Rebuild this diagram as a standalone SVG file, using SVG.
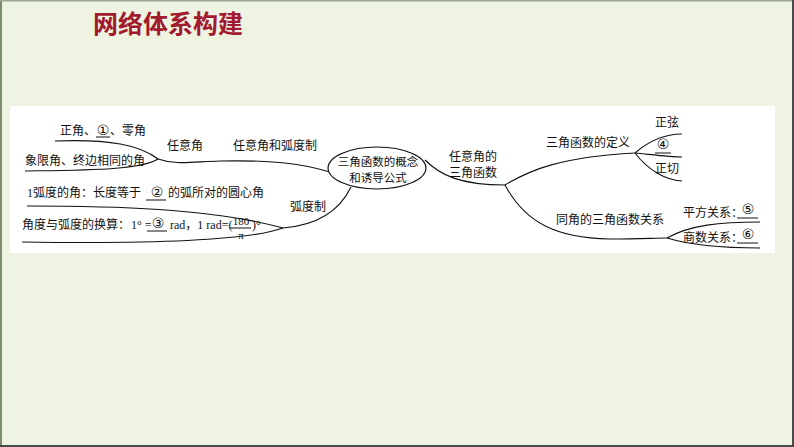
<svg xmlns="http://www.w3.org/2000/svg" width="794" height="447" viewBox="0 0 794 447">
<style>
.t{font-family:"Noto Sans CJK SC","Noto Sans",sans-serif;font-size:12px;fill:#111}
.c{font-family:"DejaVu Sans","Noto Sans CJK SC",sans-serif;font-size:14px;fill:#111;text-anchor:middle}
.s{font-family:"Liberation Serif","Noto Sans CJK SC",serif;font-size:12px;fill:#111}
.f{font-family:"Liberation Serif",serif;font-size:11px;fill:#111;text-anchor:middle}
.m{text-anchor:middle}
.ln{fill:none;stroke:#111;stroke-width:1.1}
.u{stroke:#111;stroke-width:1}
</style>
<rect x="0" y="0" width="794" height="447" fill="#eef3e2"/>
<line x1="1" y1="0" x2="1" y2="447" stroke="#7d8a70" stroke-width="2"/>
<line x1="0" y1="0.75" x2="794" y2="0.75" stroke="#9ca68f" stroke-width="1.5"/>
<line x1="793" y1="0" x2="793" y2="447" stroke="#4a4a4a" stroke-width="2"/>
<line x1="0" y1="446" x2="794" y2="446" stroke="#4a4a4a" stroke-width="2"/>
<text x="93" y="33" style="font-family:'Noto Sans CJK SC',sans-serif;font-size:25px;font-weight:bold;fill:#a11a2e">网络体系构建</text>
<rect x="10" y="106" width="765" height="147" fill="#ffffff"/>

<g id="connectors">
<path class="ln" d="M55,141 C110,139 140,145 158,159"/>
<path class="ln" d="M25,171 C90,170 140,170 158,159"/>
<path class="ln" d="M158,159 C175,165 190,162 220,161 C270,160 300,163 330,172"/>
<path class="ln" d="M351,187 C340,210 320,225 283,228"/>
<path class="ln" d="M27,206 C110,206 210,208 283,228"/>
<path class="ln" d="M22,242 C150,244 250,240 283,228"/>
<path class="ln" d="M425,160 C440,175 460,185 505,185"/>
<path class="ln" d="M505,185 C530,170 560,157 635,153"/>
<path class="ln" d="M505,185 C525,222 555,238 610,239 C640,239 655,238 667,238"/>
<path class="ln" d="M635,153 C650,140 665,134 682,134"/>
<path class="ln" d="M635,153 C655,155 670,157 682,157"/>
<path class="ln" d="M635,153 C648,170 665,180 682,181"/>
<path class="ln" d="M667,238 C690,225 720,222 760,222"/>
<path class="ln" d="M667,238 C690,245 720,248 760,248"/>
</g>

<g id="n-left1">
<text class="t" x="60" y="135">正角、</text>
<text class="c" x="103" y="135">①</text>
<line class="u" x1="96" y1="137" x2="110" y2="137"/>
<text class="t" x="110" y="135">、零角</text>
</g>
<g id="n-left2"><text class="t" x="25" y="165">象限角、终边相同的角</text></g>
<g id="n-renyi"><text class="t m" x="185" y="150">任意角</text></g>
<g id="n-hudu-label"><text class="t m" x="275" y="150">任意角和弧度制</text></g>
<g id="n-center">
<ellipse cx="377" cy="168" rx="49" ry="21" fill="#fff" stroke="#111" stroke-width="1.1"/>
<text class="t m" x="378" y="166" style="font-size:11.5px">三角函数的概念</text>
<text class="t m" x="378" y="182" style="font-size:11.5px">和诱导公式</text>
</g>
<g id="n-rad1">
<text class="s" x="27" y="197">1</text>
<text class="t" x="33" y="197">弧度的角：长度等于</text>
<text class="c" x="157" y="197">②</text>
<line class="u" x1="146" y1="200" x2="166" y2="200"/>
<text class="t" x="168" y="197">的弧所对的圆心角</text>
</g>
<g id="n-rad2">
<text class="t" x="22" y="229">角度与弧度的换算：</text>
<text class="s" x="131" y="229">1° =</text>
<line class="u" x1="147" y1="231" x2="167" y2="231"/>
<text class="c" x="158" y="228">③</text>
<text class="s" x="170" y="229">rad，1 rad=(</text>
<text class="f" x="241" y="225">180</text>
<line class="u" x1="230" y1="228" x2="251" y2="228"/>
<text class="f" x="241" y="239">π</text>
<text class="s" x="252" y="229">)°</text>
</g>
<g id="n-hududu"><text class="t m" x="308" y="211">弧度制</text></g>
<g id="n-rtrig">
<text class="t m" x="473" y="161">任意角的</text>
<text class="t m" x="473" y="177">三角函数</text>
</g>
<g id="n-def"><text class="t m" x="588" y="147">三角函数的定义</text></g>
<g id="n-sin"><text class="t m" x="667" y="127">正弦</text></g>
<g id="n-4">
<text class="c" x="663" y="149">④</text>
<line class="u" x1="655" y1="153" x2="671" y2="153"/>
</g>
<g id="n-tan"><text class="t m" x="667" y="173">正切</text></g>
<g id="n-same"><text class="t m" x="610" y="224">同角的三角函数关系</text></g>
<g id="n-sq">
<text class="t" x="683" y="217">平方关系：</text>
<text class="c" x="748" y="214">⑤</text>
<line class="u" x1="737" y1="218" x2="758" y2="218"/>
</g>
<g id="n-quot">
<text class="t" x="683" y="242">商数关系：</text>
<text class="c" x="748" y="239">⑥</text>
<line class="u" x1="737" y1="243" x2="758" y2="243"/>
</g>
</svg>
